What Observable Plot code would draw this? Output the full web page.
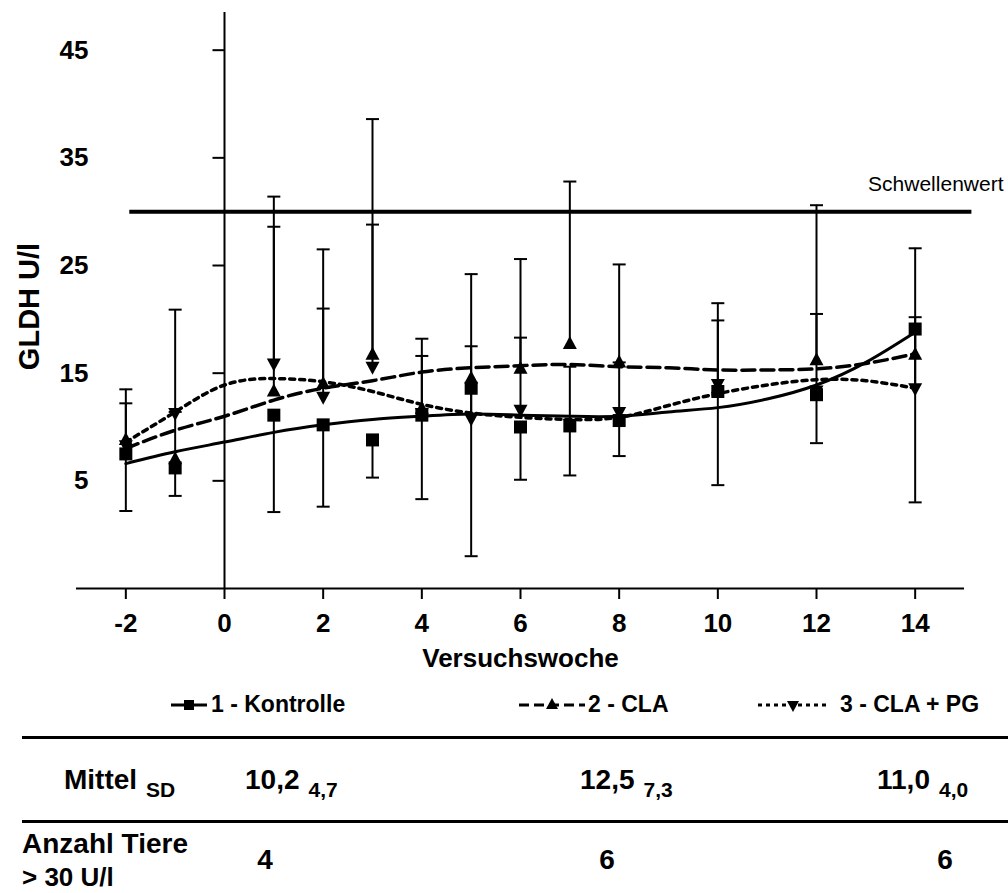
<!DOCTYPE html>
<html><head><meta charset="utf-8">
<script src="https://cdn.jsdelivr.net/npm/d3@7"></script>
<script src="https://cdn.jsdelivr.net/npm/@observablehq/plot@0.6"></script>
<style>
body{margin:0;background:#fff;font-family:"Liberation Sans",Arial,sans-serif;color:#000;}
#wrap{position:relative;width:1008px;height:893px;overflow:hidden;}
.t{position:absolute;white-space:nowrap;font-weight:bold;line-height:1;}
.sub{font-size:21px;position:relative;top:8px;margin-left:9px;}
.hline{position:absolute;left:22px;width:986px;height:3px;background:#000;}
</style></head><body><div id="wrap"></div>
<script>
// ---- data ----
const weeks = [-2, -1, 1, 2, 3, 4, 5, 6, 7, 8, 10, 12, 14];
const kontrolleMean = [7.5, 6.2, 11.1, 10.2, 8.8, 11.1, 13.6, 10.0, 10.1, 10.6, 13.3, 13.0, 19.1];
const kontrolleLow  = [2.2, 3.6, 2.1, 2.6, 5.3, 3.3, -2.0, 5.1, 5.5, 7.3, 4.6, 8.5, 3.0];
const claMean = [8.8, 7.0, 13.3, 14.0, 16.7, 11.7, 14.5, 15.4, 17.7, 16.0, 13.6, 16.2, 16.7];
const claHigh = [13.5, 11.4, 31.4, 26.5, 38.6, 18.2, 24.2, 25.6, 32.8, 25.1, 21.5, 30.6, 26.6];
const pgMean  = [8.3, 11.3, 15.9, 12.8, 15.6, 11.3, 10.8, 11.6, 10.3, 11.4, 14.0, 13.4, 13.6];
const pgHigh  = [12.2, 20.9, 28.6, 21.0, 28.8, 16.6, 17.5, 18.3, 15.6, 16.0, 19.9, 20.5, 20.2];

const fitWeeks = [-2, -1, 0, 1, 2, 3, 4, 5, 6, 7, 8, 9, 10, 11, 12, 13, 14];
const fitKontrolle = [6.6, 7.7, 8.6, 9.5, 10.2, 10.7, 11.0, 11.2, 11.1, 11.0, 11.0, 11.4, 11.8, 12.6, 13.9, 16.0, 18.8];
const fitCla = [8.0, 9.7, 11.0, 12.5, 13.6, 14.3, 15.1, 15.5, 15.7, 15.8, 15.6, 15.5, 15.3, 15.3, 15.4, 15.9, 16.8];
const fitPg  = [8.6, 11.4, 13.9, 14.5, 14.2, 13.3, 12.1, 11.3, 10.9, 10.7, 10.9, 12.0, 13.1, 13.9, 14.4, 14.3, 13.6];

const xTicks = [-2, 0, 2, 4, 6, 8, 10, 12, 14];
const yTicks = [5, 15, 25, 35, 45];
const threshold = 30;
const thresholdLabel = "Schwellenwert";
const xLabel = "Versuchswoche";
const yLabel = "GLDH U/l";
const seriesNames = ["1 - Kontrolle", "2 - CLA", "3 - CLA + PG"];
const tableRowLabels = ["Mittel", "SD", "Anzahl Tiere", "> 30 U/l"];
const tableMeans = ["10,2", "12,5", "11,0"];
const tableSD = ["4,7", "7,3", "4,0"];
const tableCounts = ["4", "6", "6"];

// ---- derived tables ----
const kRows = weeks.map((w, i) => ({week: w, mean: kontrolleMean[i], end: kontrolleLow[i]}));
const cRows = weeks.map((w, i) => ({week: w, mean: claMean[i], end: claHigh[i]}));
const pRows = weeks.map((w, i) => ({week: w, mean: pgMean[i], end: pgHigh[i]}));
const fitRows = (vals) => fitWeeks.map((w, i) => ({week: w, v: vals[i]}));

// custom symbols
const sq = {draw(c) { c.rect(-6.5, -6.5, 13, 13); }};
const triUp = {draw(c) { c.moveTo(0, -8); c.lineTo(7, 5); c.lineTo(-7, 5); c.closePath(); }};
const triDown = {draw(c) { c.moveTo(0, 8); c.lineTo(7, -5); c.lineTo(-7, -5); c.closePath(); }};
const cap = {draw(c) { c.moveTo(-6.5, 0); c.lineTo(6.5, 0); }};
const yTickSym = {draw(c) { c.moveTo(-12, 0); c.lineTo(0, 0); }};

function bars(rows) {
  return [
    Plot.ruleX(rows, {x: "week", y1: "mean", y2: "end", stroke: "black", strokeWidth: 2}),
    Plot.dot(rows, {x: "week", y: "end", symbol: cap, stroke: "black", strokeWidth: 2, fill: "none"})
  ];
}

const FONT = "'Liberation Sans', Arial, sans-serif";
const plot = Plot.plot({
  width: 1008, height: 680,
  marginLeft: 76, marginRight: 44, marginTop: 12, marginBottom: 92,
  x: {domain: [-3, 15], label: null},
  y: {domain: [-5, 48.5], axis: null, label: null},
  style: {fontFamily: FONT, background: "white", overflow: "visible", color: "black"},
  marks: [
    Plot.axisX(xTicks, {tickSize: 11, tickPadding: 14, fontSize: 26, fontWeight: "bold", strokeWidth: 2, label: null, tickFormat: d => String(d)}),
    Plot.ruleY([-5], {strokeWidth: 2}),
    Plot.ruleX([0], {strokeWidth: 2}),
    Plot.dot(yTicks, {x: 0, y: d => d, symbol: yTickSym, stroke: "black", strokeWidth: 2, fill: "none"}),
    Plot.text(yTicks, {y: d => d, text: d => String(d), frameAnchor: "left", dx: 12, textAnchor: "end", fontSize: 26, fontWeight: "bold"}),
    Plot.text([xLabel], {text: d => d, frameAnchor: "bottom", dy: 78, fontSize: 26, fontWeight: "bold"}),
    Plot.text([yLabel], {text: d => d, frameAnchor: "left", textAnchor: "middle", rotate: -90, dx: -47, dy: 6, fontSize: 29, fontWeight: "bold"}),
    Plot.ruleY([threshold], {x1: -1.92, x2: 15.15, stroke: "black", strokeWidth: 4}),
    Plot.text([thresholdLabel], {text: d => d, y: () => threshold, frameAnchor: "right", textAnchor: "end", dx: 39, dy: -27, fontSize: 21}),
    ...bars(kRows), ...bars(cRows), ...bars(pRows),
    Plot.line(fitRows(fitKontrolle), {x: "week", y: "v", curve: "natural", stroke: "black", strokeWidth: 3}),
    Plot.line(fitRows(fitCla), {x: "week", y: "v", curve: "natural", stroke: "black", strokeWidth: 3.5, strokeDasharray: "13,6"}),
    Plot.line(fitRows(fitPg), {x: "week", y: "v", curve: "natural", stroke: "black", strokeWidth: 3.5, strokeDasharray: "5,5"}),
    Plot.dot(pRows, {x: "week", y: "mean", symbol: triDown, fill: "black", stroke: "none"}),
    Plot.dot(kRows, {x: "week", y: "mean", symbol: sq, fill: "black", stroke: "none"}),
    Plot.dot(cRows, {x: "week", y: "mean", symbol: triUp, fill: "black", stroke: "none"})
  ]
});
const wrap = document.getElementById("wrap");
plot.style.position = "absolute"; plot.style.left = "0"; plot.style.top = "0";
wrap.appendChild(plot);

// ---- legend ----
function addText(txt, left, top, size, extra) {
  const d = document.createElement("div");
  d.className = "t"; d.style.left = left + "px"; d.style.top = top + "px"; d.style.fontSize = size + "px";
  d.innerHTML = txt; if (extra) Object.assign(d.style, extra);
  wrap.appendChild(d); return d;
}
function sample(left, width, dash, shape) {
  const ns = "http://www.w3.org/2000/svg";
  const s = document.createElementNS(ns, "svg");
  s.setAttribute("width", width); s.setAttribute("height", 20);
  s.style.position = "absolute"; s.style.left = left + "px"; s.style.top = "695px";
  const l = document.createElementNS(ns, "line");
  l.setAttribute("x1", 0); l.setAttribute("x2", width); l.setAttribute("y1", 10); l.setAttribute("y2", 10);
  l.setAttribute("stroke", "black"); l.setAttribute("stroke-width", 3);
  if (dash) l.setAttribute("stroke-dasharray", dash);
  s.appendChild(l);
  const p = document.createElementNS(ns, "path");
  const cx = width / 2;
  const d = shape === "sq" ? `M${cx-5},5h10v10h-10z` : shape === "up" ? `M${cx},3L${cx+6},14L${cx-6},14z` : `M${cx},17L${cx+6},6L${cx-6},6z`;
  p.setAttribute("d", d); p.setAttribute("fill", "black");
  s.appendChild(p);
  wrap.appendChild(s);
}
sample(171, 36, null, "sq");
addText(seriesNames[0], 211, 693, 23);
sample(519, 66, "10,5", "up");
addText(seriesNames[1], 588, 693, 23);
sample(758, 70, "4,4", "down");
addText(seriesNames[2], 840, 693, 23);

// ---- table ----
[736, 820].forEach(t => { const h = document.createElement("div"); h.className = "hline"; h.style.top = t + "px"; wrap.appendChild(h); });
addText(`${tableRowLabels[0]}<span class="sub">${tableRowLabels[1]}</span>`, 64, 766, 28);
const colLeft = [245, 580, 877];
tableMeans.forEach((m, i) => addText(`${m}<span class="sub">${tableSD[i]}</span>`, colLeft[i], 766, 28));
addText(tableRowLabels[2], 22, 830, 28);
addText(tableRowLabels[3], 22, 864, 26);
const cntCenter = [265, 607, 945];
tableCounts.forEach((c, i) => addText(c, cntCenter[i], 846, 28, {transform: "translateX(-50%)"}));
</script></body></html>
